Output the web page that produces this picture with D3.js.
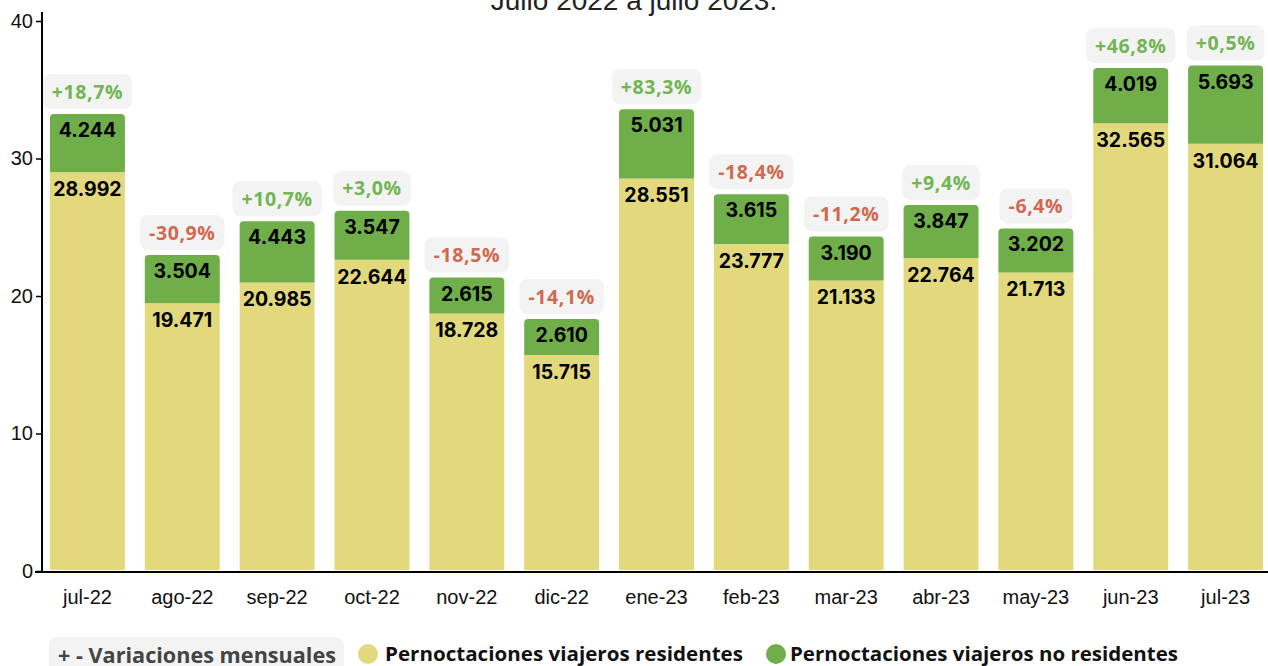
<!DOCTYPE html>
<html><head><meta charset="utf-8">
<script src="https://cdn.jsdelivr.net/npm/d3@7"></script>
<style>
html,body{margin:0;padding:0;background:#fff;}
svg{display:block;}
</style></head>
<body>
<svg id="chart" width="1268" height="666"></svg>
<script>
const months = ["jul-22","ago-22","sep-22","oct-22","nov-22","dic-22","ene-23","feb-23","mar-23","abr-23","may-23","jun-23","jul-23"];
const residentes = [28.992,19.471,20.985,22.644,18.728,15.715,28.551,23.777,21.133,22.764,21.713,32.565,31.064];
const noResidentes = [4.244,3.504,4.443,3.547,2.615,2.610,5.031,3.615,3.190,3.847,3.202,4.019,5.693];
const variaciones = [18.7,-30.9,10.7,3.0,-18.5,-14.1,83.3,-18.4,-11.2,9.4,-6.4,46.8,0.5];
const yTicks = [0,10,20,30,40];
const titleText = "Julio 2022 a julio 2023.";
const legendLabels = ["+ - Variaciones mensuales","Pernoctaciones viajeros residentes","Pernoctaciones viajeros no residentes"];

const C_RES = "#e1d97b", C_NORES = "#6fae49", C_POS = "#72b553", C_NEG = "#d0694f", C_BOX = "#f3f3f3";

const svg = d3.select("#chart");
const x = d3.scaleBand().domain(months).range([42, 1271]).paddingInner(0.21).paddingOuter(0.084);
const y = d3.scaleLinear().domain([0, 40]).range([571, 21]);

const es = d3.formatLocale({decimal: ",", thousands: ".", grouping: [3], currency: ["", "€"], minus: "-"});
const fmtN = es.format(",.0f");
const fmtP = es.format("+.1f");

// title
svg.append("text").attr("x", 634).attr("y", 10).attr("text-anchor", "middle")
  .attr("font-family", "Liberation Sans, Arial, sans-serif").attr("font-size", 28).attr("fill", "#222")
  .text(titleText);

const data = months.map((m, i) => ({m, r: residentes[i], n: noResidentes[i], v: variaciones[i]}));

// resident bars
svg.append("g").selectAll("rect").data(data).join("rect")
  .attr("x", d => x(d.m)).attr("width", x.bandwidth())
  .attr("y", d => y(d.r)).attr("height", d => y(0) - 1 - y(d.r))
  .attr("fill", C_RES);

// non-resident bars with rounded top corners
function topRounded(x0, y0, w, h, r) {
  return `M${x0},${y0 + h} L${x0},${y0 + r} Q${x0},${y0} ${x0 + r},${y0} L${x0 + w - r},${y0} Q${x0 + w},${y0} ${x0 + w},${y0 + r} L${x0 + w},${y0 + h} Z`;
}
svg.append("g").selectAll("path").data(data).join("path")
  .attr("d", d => topRounded(x(d.m), y(d.r + d.n), x.bandwidth(), y(d.r) - y(d.r + d.n), 4))
  .attr("fill", C_NORES);

const numFont = "Inter, Roboto, sans-serif";
// labels
svg.append("g").selectAll("text").data(data).join("text")
  .attr("x", d => x(d.m) + x.bandwidth() / 2).attr("y", d => y(d.r + d.n) + 23)
  .attr("text-anchor", "middle").attr("font-family", numFont).attr("font-weight", 700)
  .attr("font-size", 19.5).attr("fill", "#000").text(d => fmtN(d.n * 1000));
svg.append("g").selectAll("text").data(data).join("text")
  .attr("x", d => x(d.m) + x.bandwidth() / 2).attr("y", d => y(d.r) + 24)
  .attr("text-anchor", "middle").attr("font-family", numFont).attr("font-weight", 700)
  .attr("font-size", 19.5).attr("fill", "#000").text(d => fmtN(d.r * 1000));

// variation boxes
const pg = svg.append("g").selectAll("g").data(data).join("g")
  .attr("transform", d => `translate(${x(d.m) + x.bandwidth() / 2},${y(d.r + d.n) - 5 - 17.5})`);
const boxRects = pg.append("rect").attr("fill", C_BOX).attr("rx", 8).attr("ry", 8);
const pTexts = pg.append("text").attr("text-anchor", "middle").attr("dy", "0.36em")
  .attr("font-family", "Open Sans, sans-serif").attr("font-weight", 700).attr("font-size", 19.5)
  .attr("letter-spacing", 0.6)
  .attr("fill", d => d.v >= 0 ? C_POS : C_NEG).text(d => fmtP(d.v) + "%");
pTexts.each(function(d) { d.tw = this.getComputedTextLength(); });
boxRects.attr("x", d => -(d.tw + 18) / 2).attr("width", d => d.tw + 18).attr("y", -17.5).attr("height", 35);

// y axis
const yAxis = svg.append("g").attr("transform", "translate(42,0)")
  .call(d3.axisLeft(y).tickValues(yTicks).tickSize(6).tickSizeOuter(0).tickPadding(3));
yAxis.select(".domain").remove();
yAxis.selectAll(".tick line").attr("stroke", "#000").attr("stroke-width", 1.5);
yAxis.selectAll(".tick text").attr("font-family", "Liberation Sans, Arial, sans-serif").attr("font-size", 20).attr("fill", "#111");
svg.append("line").attr("x1", 42).attr("x2", 42).attr("y1", 12).attr("y2", y(0) + 1)
  .attr("stroke", "#000").attr("stroke-width", 2);

// x axis
const xAxis = svg.append("g").attr("transform", `translate(0,${y(0) + 1})`)
  .call(d3.axisBottom(x).tickSize(0).tickPadding(18));
xAxis.select(".domain").remove();
xAxis.selectAll(".tick text").attr("font-family", "Liberation Sans, Arial, sans-serif").attr("font-size", 20).attr("fill", "#111");
svg.append("line").attr("x1", 35).attr("x2", 1268).attr("y1", y(0) + 1).attr("y2", y(0) + 1)
  .attr("stroke", "#000").attr("stroke-width", 2);

// legend
const lg = svg.append("g");
lg.append("rect").attr("x", 49).attr("y", 637).attr("width", 295).attr("height", 40).attr("rx", 8).attr("fill", C_BOX);
lg.append("text").attr("x", 58).attr("y", 663).attr("font-family", "Open Sans, sans-serif").attr("font-weight", 700)
  .attr("font-size", 21).attr("fill", "#444").attr("textLength", 278).attr("lengthAdjust", "spacingAndGlyphs").text(legendLabels[0]);
lg.append("circle").attr("cx", 368).attr("cy", 654).attr("r", 10).attr("fill", C_RES);
lg.append("text").attr("x", 385).attr("y", 661).attr("font-family", "Open Sans, sans-serif").attr("font-weight", 700)
  .attr("font-size", 20).attr("fill", "#111").attr("textLength", 358).attr("lengthAdjust", "spacingAndGlyphs").text(legendLabels[1]);
lg.append("circle").attr("cx", 776).attr("cy", 654).attr("r", 10).attr("fill", C_NORES);
lg.append("text").attr("x", 790).attr("y", 661).attr("font-family", "Open Sans, sans-serif").attr("font-weight", 700)
  .attr("font-size", 20).attr("fill", "#111").attr("textLength", 388).attr("lengthAdjust", "spacingAndGlyphs").text(legendLabels[2]);
</script>
</body></html>
